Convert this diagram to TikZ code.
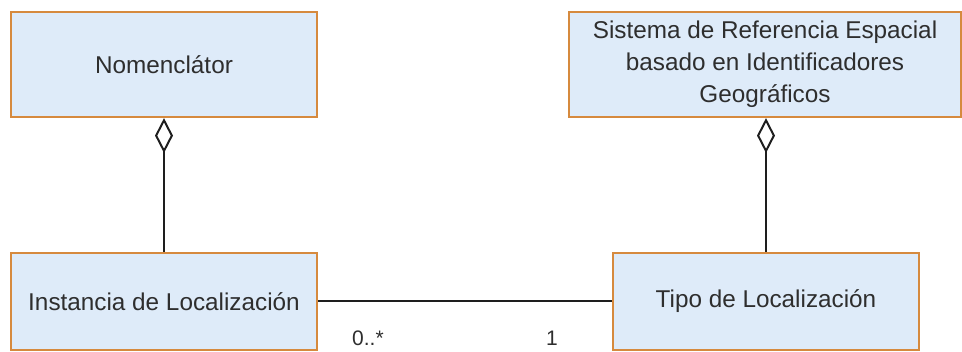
\documentclass[tikz,border=0pt]{standalone}
\usepackage{fontspec}
\setmainfont{Liberation Sans}
\usetikzlibrary{arrows.meta}
\definecolor{boxfill}{HTML}{DEEBF9}
\definecolor{boxline}{HTML}{D68A3E}
\definecolor{txt}{HTML}{2E2E2E}
\definecolor{conn}{HTML}{1E1E1E}
\tikzset{
  classbox/.style={draw=boxline, fill=boxfill, line width=2.2pt, inner sep=0pt,
    text=txt, align=center, font=\fontsize{24.3}{32}\selectfont},
  link/.style={draw=conn, line width=2pt},
  aggr/.style={link, -{Diamond[open, length=35pt, width=18pt, line width=2pt]}},
  mult/.style={text=txt, font=\fontsize{21}{24}\selectfont, inner sep=0pt}
}
\begin{document}
\begin{tikzpicture}[x=1pt, y=-1pt]
\useasboundingbox (0,0) rectangle (962,352);
\node[classbox, minimum width=306pt, minimum height=105pt] (nom) at (164,64.5) {Nomenclátor};
\node[classbox, minimum width=392pt, minimum height=105pt] (sis) at (765,64.5)
  {Sistema de Referencia Espacial\\basado en Identificadores\\Geográficos};
\node[classbox, minimum width=306pt, minimum height=97pt] (ins) at (164,301.5) {Instancia de Localización};
\node[classbox, minimum width=306pt, minimum height=97pt] (tipo) at (766,301.5) {Tipo de Localización};
\draw[aggr] (ins.north) -- (nom.south);
\draw[aggr] (tipo.north) -- (tipo.north |- sis.south);
\draw[link] (ins.east) -- (tipo.west);
\node[mult, anchor=base west] (m1) at (352,346) {0..*};
\node[mult, anchor=base west] (m2) at (546,346) {1};
\end{tikzpicture}
\end{document}
